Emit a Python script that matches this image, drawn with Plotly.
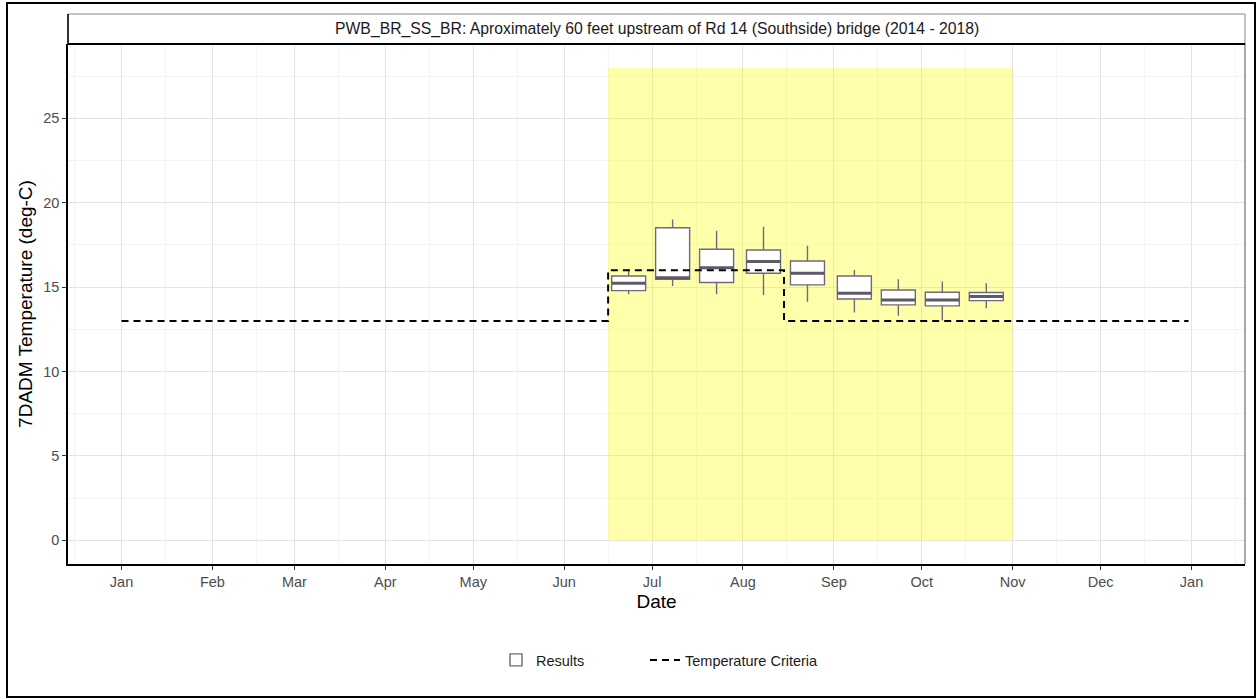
import pandas as pd
import plotly.graph_objects as go

# Half-month 7DADM summaries (deg-C), 2014 - 2018
period_mid = ["2019-06-23", "2019-07-08", "2019-07-23", "2019-08-08", "2019-08-23",
              "2019-09-08", "2019-09-23", "2019-10-08", "2019-10-23"]
whisker_low = [14.58, 15.07, 14.58, 14.54, 14.13, 13.49, 13.30, 13.02, 13.75]
quart_1 = [14.79, 15.47, 15.27, 15.82, 15.13, 14.30, 13.95, 13.89, 14.20]
med = [15.23, 15.56, 16.15, 16.51, 15.82, 14.64, 14.24, 14.24, 14.44]
quart_3 = [15.66, 18.52, 17.24, 17.20, 16.55, 15.66, 14.83, 14.70, 14.68]
whisker_high = [16.08, 19.01, 18.34, 18.58, 17.45, 16.02, 15.47, 15.33, 15.23]

# Temperature criteria steps
crit_dates = ["2019-01-01", "2019-06-16", "2019-08-15", "2019-12-31"]
crit_values = [13, 16, 13, 13]

# Spawning season window
season_start, season_end = "2019-06-16", "2019-11-01"
season_top = 28

strip_title = "PWB_BR_SS_BR: Aproximately 60 feet upstream of Rd 14 (Southside) bridge (2014 - 2018)"

FONT = "Liberation Sans, Arial, sans-serif"
TICK_SIZE = 14.5
box_days = 11.6
box_color = "#6F6A78"

# panel geometry in pixels (for paper-referenced annotations)
PL, PR, PT, PB = 68, 1245, 44, 564
PW, PH = PR - PL, PB - PT


def px_x(p):
    return (p - PL) / PW


def px_y(p):
    return (PB - p) / PH


x_lo = pd.Timestamp("2019-01-01") - pd.Timedelta(days=18.25)
x_hi = pd.Timestamp("2020-01-01") + pd.Timedelta(days=18.25)

fig = go.Figure()

fig.add_trace(go.Box(
    x=period_mid, q1=quart_1, median=med, q3=quart_3,
    lowerfence=whisker_low, upperfence=whisker_high,
    width=box_days * 86400000, whiskerwidth=0,
    fillcolor="white", line=dict(color=box_color, width=1.4),
    name="Results", boxpoints=False, hoverinfo="skip", legend="legend",
))

# heavier median bars
mx, my = [], []
half = pd.Timedelta(days=box_days / 2)
for d, m in zip(period_mid, med):
    c = pd.Timestamp(d)
    mx += [c - half, c + half, None]
    my += [m, m, None]
fig.add_trace(go.Scatter(x=mx, y=my, mode="lines", line=dict(color="#5E5968", width=3),
                         showlegend=False, hoverinfo="skip"))

fig.add_trace(go.Scatter(
    x=crit_dates, y=crit_values, mode="lines", line_shape="hv",
    line=dict(color="black", width=2, dash="7px,5px"),
    name="Temperature Criteria", hoverinfo="skip", legend="legend2",
))

fig.add_shape(type="rect", xref="x", yref="y", x0=season_start, x1=season_end,
              y0=0, y1=season_top, fillcolor="rgba(255,255,0,0.33)", line_width=0,
              layer="between")

# facet strip above the panel
strip_h = 30 / PH
fig.add_shape(type="rect", xref="paper", yref="paper", x0=0, x1=1, y0=1, y1=1 + strip_h,
              fillcolor="white", line=dict(color="#8A8A8A", width=1))
fig.add_shape(type="line", xref="paper", yref="paper", x0=0, x1=0, y0=1, y1=1 + strip_h,
              line=dict(color="black", width=1.5))
fig.add_annotation(xref="paper", yref="paper", x=0.5, y=1 + strip_h / 2, text=strip_title,
                   showarrow=False, font=dict(family=FONT, size=15.75, color="#1A1A1A"),
                   xanchor="center", yanchor="middle")
# panel right edge and strip/panel divider
fig.add_shape(type="line", xref="paper", yref="paper", x0=1, x1=1, y0=0, y1=1,
              line=dict(color="#555555", width=1))
fig.add_shape(type="line", xref="paper", yref="paper", x0=0, x1=1, y0=1, y1=1,
              line=dict(color="black", width=2))

# outer frame
fig.add_shape(type="rect", xref="paper", yref="paper",
              x0=px_x(7), x1=px_x(1255), y0=px_y(697), y1=px_y(3),
              line=dict(color="black", width=2), fillcolor="rgba(0,0,0,0)")

legend_common = dict(orientation="h", yanchor="middle", xanchor="left",
                     y=px_y(660), font=dict(family=FONT, size=TICK_SIZE, color="#1A1A1A"),
                     itemwidth=30, bgcolor="rgba(0,0,0,0)")

fig.update_layout(
    width=1257, height=698,
    margin=dict(l=PL, r=1257 - PR, t=PT, b=698 - PB, autoexpand=False),
    paper_bgcolor="white", plot_bgcolor="white",
    font=dict(family=FONT, color="#4D4D4D"),
    showlegend=True,
    legend=dict(x=px_x(496), **legend_common),
    legend2=dict(x=px_x(645), **legend_common),
    xaxis=dict(
        type="date", range=[x_lo, x_hi], tick0="2019-01-01", dtick="M1", tickformat="%b",
        showgrid=True, gridcolor="#E3E3E3", gridwidth=1,
        minor=dict(tick0="2019-01-16", dtick="M1", showgrid=True, gridcolor="#F4F4F4",
                   gridwidth=0.6),
        showline=True, linecolor="black", linewidth=1.5,
        ticks="outside", ticklen=4, tickcolor="#333333",
        tickfont=dict(family=FONT, size=TICK_SIZE, color="#4D4D4D"),
        title=dict(text="Date", font=dict(family=FONT, size=19, color="black"), standoff=6),
        zeroline=False, automargin=False,
    ),
    yaxis=dict(
        range=[-1.4, 29.4], tick0=0, dtick=5,
        showgrid=True, gridcolor="#E3E3E3", gridwidth=1,
        minor=dict(tick0=2.5, dtick=5, showgrid=True, gridcolor="#F4F4F4", gridwidth=0.6),
        showline=True, linecolor="black", linewidth=1.5,
        ticks="outside", ticklen=4, tickcolor="#333333",
        tickfont=dict(family=FONT, size=TICK_SIZE, color="#4D4D4D"),
        title=dict(text="7DADM Temperature (deg-C)",
                   font=dict(family=FONT, size=19, color="black"), standoff=6),
        zeroline=False, automargin=False,
    ),
)

fig.write_html("out.html")
